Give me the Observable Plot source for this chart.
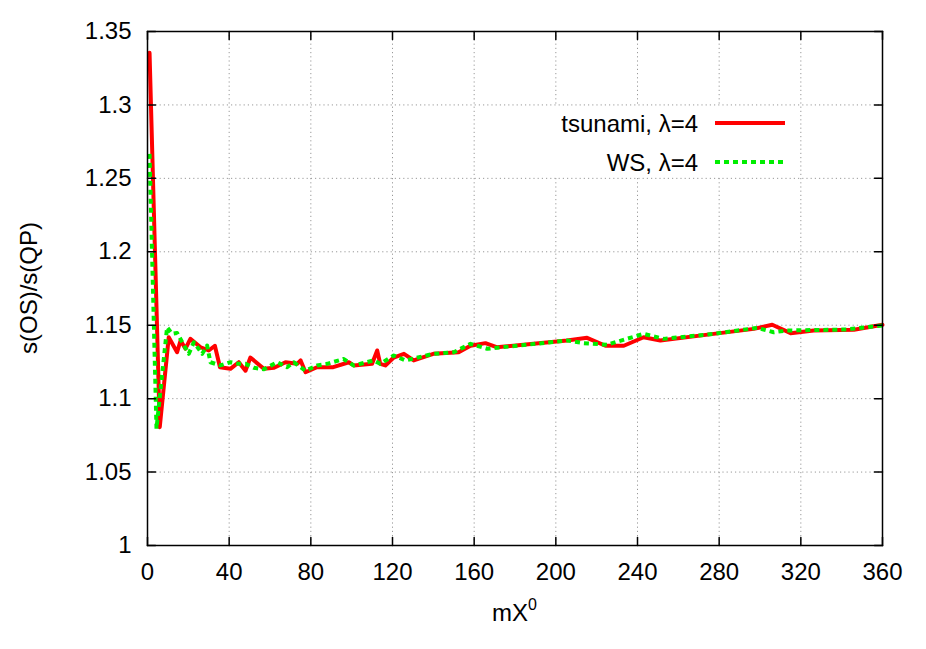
<!DOCTYPE html>
<html><head><meta charset="utf-8">
<script src="https://cdn.jsdelivr.net/npm/d3@7"></script>
<script src="https://cdn.jsdelivr.net/npm/@observablehq/plot@0.6"></script>
<style>body{margin:0;background:#fff} #chart{position:relative;width:926px;height:649px}</style>
</head><body><div id="chart"></div>
<script>
const tsunamiX = [1, 6, 10.4, 14.5, 16.2, 18.6, 21, 26, 30, 33, 35.5, 40.6, 44.7, 48, 50.4, 57, 62, 67.6, 73.3, 75, 77.4, 83, 91, 98.6, 101, 110, 112.5, 114, 116.5, 120.6, 125.6, 130.4, 140, 152.4, 158.2, 165.5, 171, 189, 205.5, 215.3, 224.3, 233.3, 243, 251.2, 277.3, 297, 306, 315, 326.3, 346, 360];
const tsunamiY = [1.3355, 1.0806, 1.1418, 1.1316, 1.1396, 1.134, 1.1407, 1.135, 1.1328, 1.136, 1.1214, 1.1203, 1.1248, 1.119, 1.128, 1.1203, 1.121, 1.1248, 1.1237, 1.126, 1.118, 1.1214, 1.1214, 1.1248, 1.1226, 1.1237, 1.1328, 1.1237, 1.1226, 1.128, 1.1305, 1.126, 1.1305, 1.1316, 1.136, 1.1378, 1.135, 1.1373, 1.1396, 1.1414, 1.136, 1.136, 1.1418, 1.1396, 1.1441, 1.1475, 1.1503, 1.1446, 1.1464, 1.1469, 1.1503];
const wsX = [1, 4.4, 9.6, 12, 14.5, 20.2, 22.7, 26.8, 29.2, 30.8, 35.7, 40.6, 44.7, 48, 52, 57, 63.5, 68.4, 71.6, 77.4, 83, 88, 96, 101, 110.8, 114, 120.6, 126.3, 140, 150, 158.2, 166.4, 181, 205.5, 213.7, 225, 243, 252.8, 277.3, 298.6, 306.7, 313.2, 342.6, 360];
const wsY = [1.2667, 1.0795, 1.1486, 1.1441, 1.1447, 1.1305, 1.1384, 1.1305, 1.1362, 1.1248, 1.1226, 1.1248, 1.1237, 1.1237, 1.121, 1.12, 1.1248, 1.1214, 1.1248, 1.119, 1.1226, 1.1237, 1.127, 1.1226, 1.126, 1.1237, 1.1294, 1.126, 1.1305, 1.1316, 1.1373, 1.134, 1.136, 1.1396, 1.1378, 1.1367, 1.1441, 1.1407, 1.1441, 1.1482, 1.1452, 1.1464, 1.1471, 1.1498];
const xTicks = [0, 40, 80, 120, 160, 200, 240, 280, 320, 360];
const yTicks = [1, 1.05, 1.1, 1.15, 1.2, 1.25, 1.3, 1.35];
const seriesNames = ["tsunami, \u03bb=4", "WS, \u03bb=4"];
const seriesColors = ["#ff0000", "#00ee00"];
const xLabel = ["mX", "0"];
const yLabel = "s(OS)/s(QP)";

const tsunami = tsunamiX.map((x, i) => ({x, y: tsunamiY[i]}));
const ws = wsX.map((x, i) => ({x, y: wsY[i]}));
const tickShape = {draw(ctx, l) { ctx.moveTo(0, 0); ctx.lineTo(0, -l); }};
const tk = {length: 8, anchor: "start", shape: tickShape, stroke: "#000", strokeWidth: 1.5};
const gridStyle = {stroke: "#999", strokeDasharray: "1.2,3", strokeWidth: 1};
const FS = 24;
const dash = "5,4";

const W = 926, H = 649, mL = 147, mR = 44, mT = 31, mB = 104;
const plot = Plot.plot({
  width: W, height: H, marginLeft: mL, marginRight: mR, marginTop: mT, marginBottom: mB,
  style: {fontFamily: "'Liberation Sans', Arial, sans-serif", fontSize: FS + "px", color: "#000", background: "#fff"},
  x: {domain: [0, 360]},
  y: {domain: [1, 1.35]},
  marks: [
    Plot.ruleX(xTicks.slice(1, -1), {x: d => d, ...gridStyle}),
    Plot.ruleY(yTicks.slice(1, -1), {y: d => d, ...gridStyle}),
    Plot.line(tsunami, {x: "x", y: "y", stroke: seriesColors[0], strokeWidth: 4}),
    Plot.line(ws, {x: "x", y: "y", stroke: seriesColors[1], strokeWidth: 4, strokeDasharray: dash, strokeLinecap: "butt"}),
    Plot.frame({stroke: "#000", strokeWidth: 1.5}),
    Plot.vector(xTicks, {x: d => d, frameAnchor: "bottom", rotate: 0, ...tk}),
    Plot.vector(xTicks, {x: d => d, frameAnchor: "top", rotate: 180, ...tk}),
    Plot.vector(yTicks, {y: d => d, frameAnchor: "left", rotate: 90, ...tk}),
    Plot.vector(yTicks, {y: d => d, frameAnchor: "right", rotate: -90, ...tk}),
    Plot.axisX(xTicks, {tickSize: 0, tickPadding: 17, label: null, fontSize: FS}),
    Plot.axisY(yTicks, {tickSize: 0, tickPadding: 16, label: null, fontSize: FS, tickFormat: d => String(+d.toFixed(2))})
  ]
});
document.getElementById("chart").appendChild(plot);

const svg = d3.select(plot);
// axis titles
const xt = svg.append("text").attr("x", (mL + W - mR) / 2).attr("y", 621)
  .attr("text-anchor", "middle").attr("font-size", FS).attr("fill", "#000");
xt.append("tspan").text(xLabel[0]);
xt.append("tspan").attr("dy", -11).attr("font-size", 16).text(xLabel[1]);
svg.append("text").attr("transform", `translate(28,${(mT + H - mB) / 2}) rotate(-90)`)
  .attr("text-anchor", "middle").attr("dominant-baseline", "central")
  .attr("font-size", FS).attr("fill", "#000").text(yLabel);
// legend
const lg = svg.append("g");
lg.append("rect").attr("x", 515).attr("y", 106).attr("width", 285).attr("height", 71).attr("fill", "#fff");
seriesNames.forEach((name, i) => {
  const yy = 123 + i * 39;
  lg.append("text").attr("x", 698).attr("y", yy).attr("text-anchor", "end")
    .attr("dominant-baseline", "central").attr("font-size", FS).attr("fill", "#000").text(name);
  lg.append("line").attr("x1", 715).attr("x2", 785).attr("y1", yy).attr("y2", yy)
    .attr("stroke", seriesColors[i]).attr("stroke-width", 4)
    .attr("stroke-dasharray", i === 1 ? dash : null);
});
</script></body></html>
